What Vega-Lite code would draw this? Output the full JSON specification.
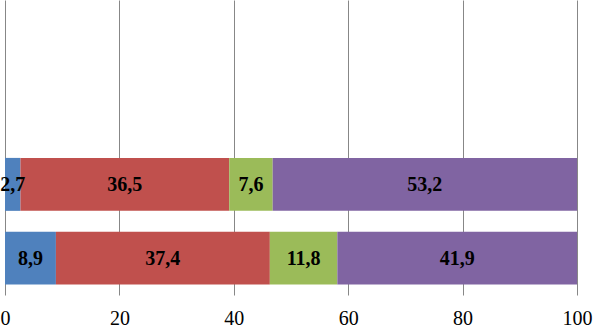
{
  "$schema": "https://vega.github.io/schema/vega-lite/v6.json",
  "width": 572,
  "height": 295,
  "autosize": {"type": "none"},
  "padding": {"left": 5, "top": 0, "right": 16, "bottom": 32},
  "background": "white",
  "config": {"view": {"stroke": null}},
  "data": {
    "values": [
      {"row": "r3", "series": "A", "ord": 1, "value": 2.7, "label": "2,7"},
      {"row": "r3", "series": "B", "ord": 2, "value": 36.5, "label": "36,5"},
      {"row": "r3", "series": "C", "ord": 3, "value": 7.6, "label": "7,6"},
      {"row": "r3", "series": "D", "ord": 4, "value": 53.2, "label": "53,2"},
      {"row": "r4", "series": "A", "ord": 1, "value": 8.9, "label": "8,9"},
      {"row": "r4", "series": "B", "ord": 2, "value": 37.4, "label": "37,4"},
      {"row": "r4", "series": "C", "ord": 3, "value": 11.8, "label": "11,8"},
      {"row": "r4", "series": "D", "ord": 4, "value": 41.9, "label": "41,9"}
    ]
  },
  "encoding": {
    "y": {
      "field": "row",
      "type": "nominal",
      "scale": {"domain": ["r1", "r2", "r3", "r4"], "paddingInner": 0.282, "paddingOuter": 0.141},
      "axis": null
    },
    "x": {
      "field": "value",
      "type": "quantitative",
      "stack": "zero",
      "scale": {"domain": [0, 100], "nice": false},
      "axis": {
        "values": [0, 20, 40, 60, 80, 100],
        "grid": true,
        "gridColor": "#878787",
        "gridWidth": 1,
        "gridOpacity": 1,
        "domain": false,
        "ticks": false,
        "labelFont": "Liberation Serif",
        "labelFontSize": 20,
        "labelColor": "#000000",
        "labelPadding": 13,
        "labelFlush": false,
        "labelOverlap": false,
        "title": null
      }
    },
    "order": {"field": "ord", "type": "quantitative"}
  },
  "layer": [
    {
      "mark": {"type": "bar"},
      "encoding": {
        "color": {
          "field": "series",
          "type": "nominal",
          "scale": {"domain": ["A", "B", "C", "D"], "range": ["#4F81BD", "#C0504D", "#9BBB59", "#8064A2"]},
          "legend": null
        }
      }
    },
    {
      "mark": {"type": "text", "font": "Liberation Serif", "fontSize": 20, "fontWeight": "bold", "color": "#000000", "baseline": "middle", "align": "center", "dy": 1},
      "encoding": {
        "x": {"field": "value", "type": "quantitative", "stack": "zero", "bandPosition": 0.5},
        "text": {"field": "label"}
      }
    }
  ]
}
